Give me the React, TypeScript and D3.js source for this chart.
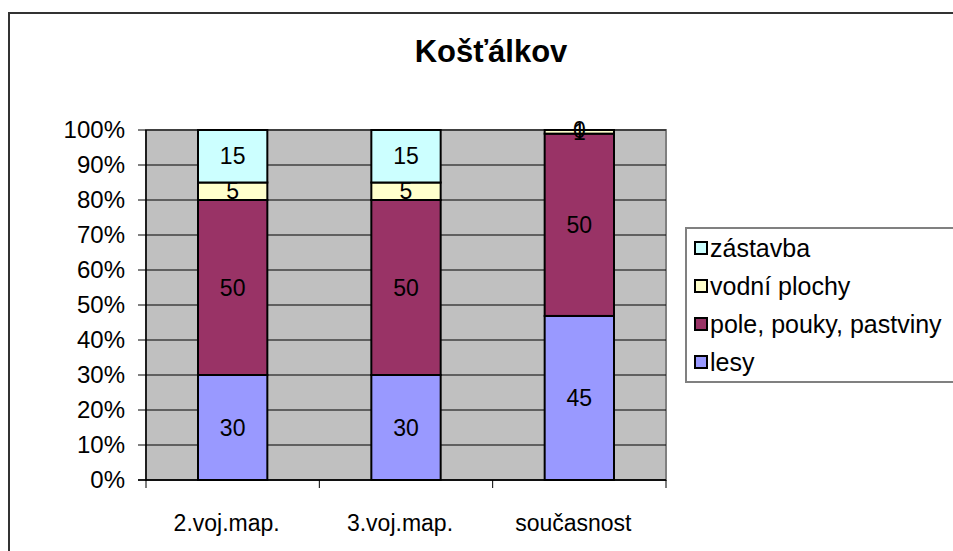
import * as d3 from "d3";

const categories = ["2.voj.map.", "3.voj.map.", "současnost"];
const seriesNames = ["lesy", "pole, pouky, pastviny", "vodní plochy", "zástavba"];
const lesy = [30, 30, 45];
const pole = [50, 50, 50];
const vodni = [5, 5, 1];
const zastavba = [15, 15, 0];
const colors = ["#9999FF", "#993366", "#FFFFCC", "#CCFFFF"];
const yTicks = [0, 0.1, 0.2, 0.3, 0.4, 0.5, 0.6, 0.7, 0.8, 0.9, 1];

const W = 953;
const H = 551;
const plot = { left: 146, right: 666, top: 130, bottom: 480 };
const font = "Arial, 'Liberation Sans', sans-serif";

export default function App() {
    const rows = categories.map((c, i) => ({
        cat: c,
        "lesy": lesy[i],
        "pole, pouky, pastviny": pole[i],
        "vodní plochy": vodni[i],
        "zástavba": zastavba[i],
    }));
    // 100% stacked
    const stacked = d3.stack<any>().keys(seriesNames).offset(d3.stackOffsetExpand)(rows);

    const x = d3.scaleBand().domain(categories).range([plot.left, plot.right]).paddingInner(0.6).paddingOuter(0.3);
    const xb = d3.scaleBand().domain(categories).range([plot.left, plot.right]);
    const y = d3.scaleLinear().domain([0, 1]).range([plot.bottom, plot.top]);

    const legendItems = [...seriesNames].reverse();

    return (
        <svg width={W} height={H} style={{ position: "absolute", left: 0, top: 0 }} fontFamily={font}>
            <rect x={0} y={0} width={W} height={H} fill="#fff" />
            <path d={`M9,${H + 5}V13H${W + 5}`} fill="none" stroke="#333" strokeWidth={2} />
            <text x={491} y={62} textAnchor="middle" fontWeight="bold" fontSize={31}>
                Košťálkov
            </text>

            {/* plot area */}
            <rect x={plot.left} y={plot.top} width={plot.right - plot.left} height={plot.bottom - plot.top}
                fill="#C0C0C0" stroke="#808080" strokeWidth={2} />
            {yTicks.map((t) => (
                <g key={t}>
                    <line x1={plot.left} x2={plot.right} y1={y(t)} y2={y(t)} stroke="#000" strokeWidth={1} />
                    <line x1={plot.left - 8} x2={plot.left} y1={y(t)} y2={y(t)} stroke="#000" strokeWidth={1} />
                    <text x={plot.left - 21} y={y(t)} dy="0.35em" textAnchor="end" fontSize={24}>
                        {`${Math.round(t * 100)}%`}
                    </text>
                </g>
            ))}
            <line x1={plot.left} x2={plot.left} y1={plot.top} y2={plot.bottom + 1} stroke="#000" strokeWidth={1.5} />
            <line x1={plot.left - 8} x2={plot.right} y1={plot.bottom} y2={plot.bottom} stroke="#000" strokeWidth={1.5} />
            {categories.map((c) => (
                <line key={c} x1={xb(c)! + xb.bandwidth()} x2={xb(c)! + xb.bandwidth()}
                    y1={plot.bottom} y2={plot.bottom + 8} stroke="#000" strokeWidth={1} />
            ))}
            <line x1={plot.left} x2={plot.left} y1={plot.bottom} y2={plot.bottom + 8} stroke="#000" />
            {categories.map((c) => (
                <text key={c} x={x(c)! + x.bandwidth() / 2 - 6} y={523} dy="0.35em" textAnchor="middle" fontSize={23}>
                    {c}
                </text>
            ))}

            {/* bars */}
            {stacked.map((s, si) => (
                <g key={s.key}>
                    {s.map((d, i) => (
                        <rect key={i} x={x(categories[i])} y={y(d[1])} width={x.bandwidth()}
                            height={Math.max(0, y(d[0]) - y(d[1]))}
                            fill={colors[si]} stroke="#000" strokeWidth={2} />
                    ))}
                </g>
            ))}
            {stacked.map((s) => (
                <g key={"l" + s.key}>
                    {s.map((d, i) => (
                        <text key={i} x={x(categories[i])! + x.bandwidth() / 2} y={(y(d[0]) + y(d[1])) / 2}
                            dy="0.35em" textAnchor="middle" fontSize={23}>
                            {(d.data as any)[s.key]}
                        </text>
                    ))}
                </g>
            ))}

            {/* legend */}
            <rect x={686} y={228} width={W} height={154} fill="#fff" stroke="#808080" strokeWidth={2} />
            {legendItems.map((name, i) => {
                const cy = 248 + i * 38;
                return (
                    <g key={name}>
                        <rect x={695} y={cy - 6} width={12} height={12} fill={colors[seriesNames.indexOf(name)]}
                            stroke="#000" strokeWidth={2} />
                        <text x={710} y={cy} dy="0.35em" fontSize={25}>{name}</text>
                    </g>
                );
            })}
        </svg>
    );
}
